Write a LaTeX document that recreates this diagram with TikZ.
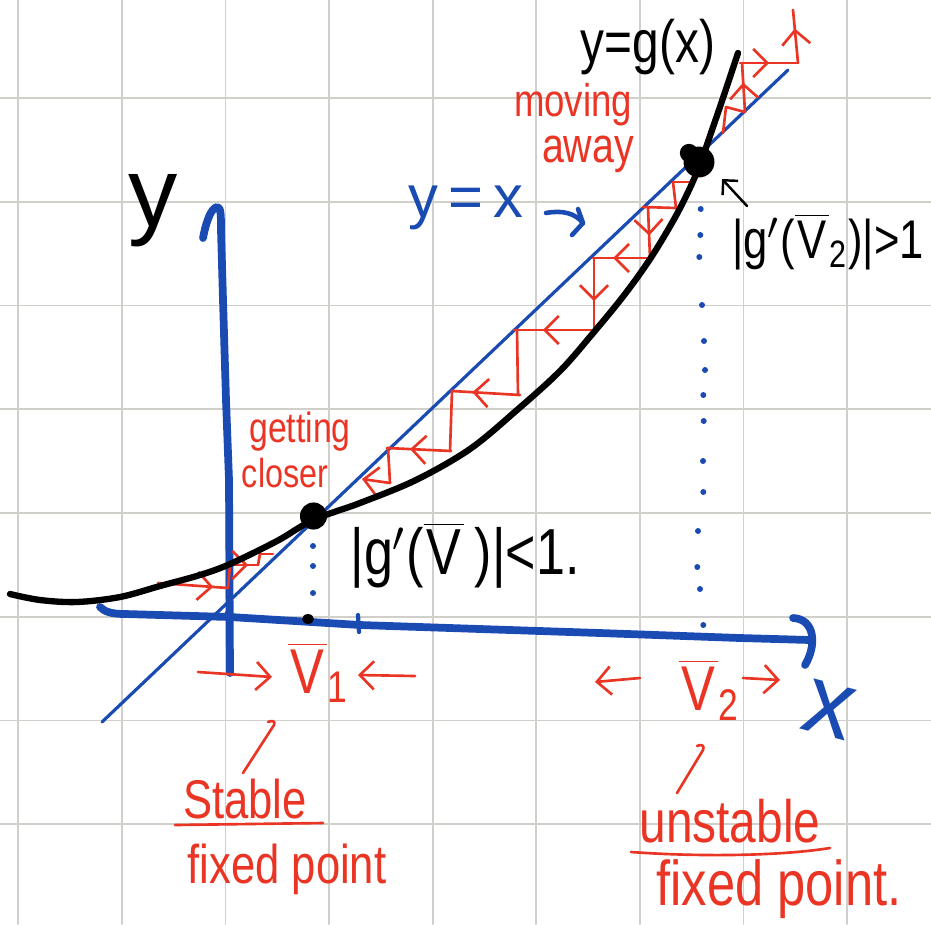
\documentclass[tikz,border=0pt]{standalone}
\usepackage{fontspec}
\setmainfont{Liberation Sans}
\newfontfamily\hand[FakeStretch=0.8]{Liberation Sans}
\usetikzlibrary{arrows.meta,decorations.markings}
\definecolor{gridc}{RGB}{208,207,202}
\definecolor{hred}{RGB}{234,52,36}
\definecolor{hblue}{RGB}{25,75,178}
\newcommand\Vb{\ensuremath{\overline{\hbox{\kern0.8pt V\kern0.8pt}}}}
\newcommand\fs[1]{\fontsize{#1}{#1}\selectfont}
\begin{document}
\begin{tikzpicture}[x=0.01cm,y=-0.01cm,line cap=round,line join=round,
  gridl/.style={draw=gridc,line width=0.55pt},
  axisl/.style={hblue,line width=2.2pt},
  redl/.style={hred,line width=0.75pt},
  hatip/.style={-{Straight Barb[length=4pt,width=8pt]}},
  midarr/.style={postaction={decorate},decoration={markings,mark=at position #1 with {\arrow{Straight Barb[length=4pt,width=8pt]}}}},
  midarr/.default=0.5,
  lab/.style={inner sep=0pt,anchor=base},
  bdot/.style={circle,fill=hblue,inner sep=0pt,minimum size=1.7pt}]
\fill[white] (0,0) rectangle (931,924);
\useasboundingbox (0,0) rectangle (931,924);
% grid
\foreach \i in {0,...,8} \draw[gridl] ({18.3+103.6*\i},0) -- ({18.3+103.6*\i},924);
\foreach \i in {1,...,8} \draw[gridl] (0,{-5.75+103.75*\i}) -- (931,{-5.75+103.75*\i});
% axes
\draw[axisl] (100,607) .. controls (105,612) and (112,614) .. (125,614) -- (230,617) -- (360,625) -- (600,633) -- (740,638) -- (810,640);
\draw[axisl] (793,618) .. controls (815,619) and (817,645) .. (805,665);
\draw[axisl] (203,238) .. controls (206,222) and (211,208) .. (217,207) .. controls (221,207) and (221,215) .. (221,230) -- (223,300) -- (226,400) -- (229,480) -- (230,673);
\draw[hblue,line width=0.6pt] (226,612) -- (230,617);
% tick on x axis
\draw[hblue,line width=1.2pt] (358,615) -- (359,632);
% y = x
\draw[hblue,line width=0.9pt] (102,722) -- (788,70);
% dotted guides
\foreach \p in {(313,546),(313,566),(313,593)} \node[bdot] at \p {};
\foreach \p in {(700.7,209),(700.3,235),(699.3,257),(702,305),(704,341),(705,370),(703.3,395),(703.7,421),(703,461),(703.3,492),(698,531),(697.3,567),(700,589),(703.3,625)} \node[bdot] at \p {};
\fill (308,619) ellipse (1.7pt and 1.4pt);
% red cobweb: getting closer (right)
\draw[redl] (692,182) -- (673,182);
\draw[redl] (673,182) -- (676,208);
\draw[redl] (676,208) -- (643,207);
\draw[redl,midarr=0.55] (648,208) -- (650,258);
\draw[redl,midarr=0.66] (652,258) -- (593,258);
\draw[redl,midarr=0.6] (594,258) -- (594,330);
\draw[redl,midarr=0.64] (594,330) -- (514,330);
\draw[redl] (517,330) -- (518,395);
\draw[redl,midarr=0.7] (520,395) -- (452,391);
\draw[redl] (452,391) -- (450,451);
\draw[redl,midarr=0.64] (451,451) -- (387,448);
\draw[redl] (388,448) -- (390,483);
\draw[redl,hatip] (390,483) -- (362,479);
% red cobweb: left
\draw[redl,midarr=0.79] (158,583) -- (228,588);
\draw[redl] (228,588) -- (230,565);
\draw[redl,midarr=0.65] (230,565) -- (258,565);
\draw[redl] (258,565) -- (260,554);
\draw[redl] (260,554) -- (273,554);
% red cobweb: moving away
\draw[redl] (723,133) -- (726,107);
\draw[redl] (726,107) -- (745,112);
\draw[redl,midarr=0.6] (745,112) -- (742,63);
\draw[redl,midarr=0.5] (740,63) -- (798,63);
\draw[redl,midarr=0.65] (798,63) -- (793,10);
% curve y = g(x)
\draw[line width=1.8pt] plot[smooth,tension=0.55] coordinates {(10,594) (40,600) (77,602) (120,597) (160,586) (200,575) (230,564) (277,541) (313,520) (360,503) (416,480) (470,449) (517,410) (560,371) (594,332) (625,294) (652,256) (678,212) (697,172) (712,130) (725,92) (738,53)};
% fixed points
\node[circle,fill=black,inner sep=0pt,minimum size=7.7pt] (P1) at (313.5,516) {};
\node[circle,fill=black,inner sep=0pt,minimum size=8.8pt] (P2) at (699,162) {};
\fill (689,153) circle (2.6pt);
% labels
\node[lab,font=\fs{28}] (ylab) at (153,226) {y};
\node[font=\fs{28},text=hblue,rotate=-15,inner sep=0pt] (xlab) at (829,710) {x};
\node[lab,font=\hand\fs{17}] (gx) at (648,62) {y=g(x)};
\node[lab,font=\fs{17},text=hblue] (yx) at (466,217) {y\,=\,x};
\coordinate (ya0) at (546,213);
\coordinate (ya1) at (583,223);
\draw[hblue,line width=1.3pt] (ya0) .. controls (562,210) and (575,213) .. (ya1);
\draw[hblue,line width=1.3pt] (578,209) -- (ya1) -- (572,235);
\node[lab,font=\hand\fs{13},text=hred] (mv) at (573,116) {moving};
\node[lab,font=\hand\fs{14},text=hred] (aw) at (588,162) {away};
\node[lab,font=\hand\fs{12},text=hred] (gt) at (300,442) {getting};
\node[lab,font=\hand\fs{11.5},text=hred] (cl) at (285,487) {closer};
\node[lab,font=\hand\fs{18.5}] (g1) at (465,574) {|g$'$(\Vb\,)|<1.};
\node[lab,font=\hand\fs{15.5}] (g2) at (828,258) {|g$'$(\Vb\textsubscript{2})|>1};
\coordinate (g2a) at (747,206);
\coordinate (P2a) at (722,179);
\draw[line width=0.7pt,-{Straight Barb[length=3pt,width=6pt]}] (g2a) -- (P2a);
% bottom labels
\node[lab,anchor=base west,font=\hand\fs{18},text=hred] (v1) at (287,693) {\Vb\textsubscript{1}};
\node[lab,anchor=base west,font=\hand\fs{18},text=hred] (v2) at (678,710) {\Vb\textsubscript{2}};
\draw[redl,hatip] (198,672) -- (272,677);
\draw[redl,hatip] (415,676) -- (358,675);
\draw[redl,hatip] (640,678) -- (595,682);
\draw[redl,hatip] (743,678) -- (780,680);
\node[lab,font=\hand\fs{15.5},text=hred] (st) at (245,818) {Stable};
\node[lab,font=\hand\fs{15.5},text=hred] (fp1) at (287,883) {fixed point};
\node[lab,font=\hand\fs{17},text=hred] (unst) at (730,842) {unstable};
\node[lab,font=\hand\fs{18},text=hred] (fp2) at (779,905) {fixed point.};
\draw[redl] (243,773) -- (274,725) .. controls (276,721) and (272,720) .. (268,722);
\draw[redl] (677,793) -- (703,750) .. controls (705,745) and (701,744) .. (697,746);
\draw[redl] (175,825) -- (323,823);
\draw[redl] (631,852) .. controls (700,857) and (780,856) .. (830,848);
\end{tikzpicture}
\end{document}
